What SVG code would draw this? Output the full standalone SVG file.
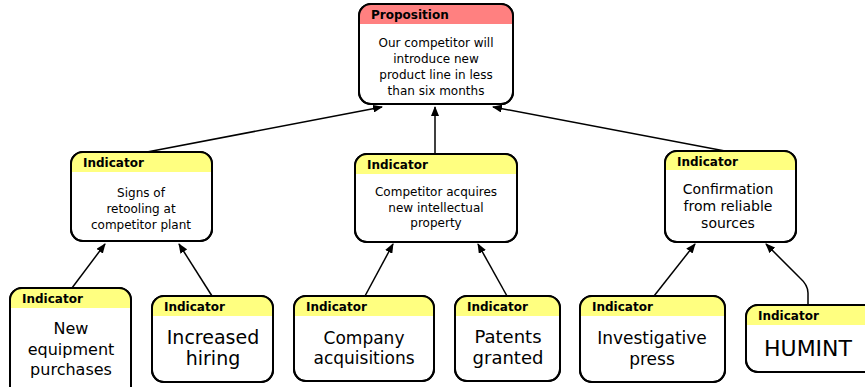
<svg xmlns="http://www.w3.org/2000/svg" width="865" height="387" viewBox="0 0 865 387">
<defs>
<style>
.box{fill:#fff;stroke:#000;stroke-width:2}
.hp{fill:#ff8080}
.hy{fill:#ffff80}
.h{font-family:"DejaVu Sans",Verdana,sans-serif;font-weight:bold;font-size:12px;fill:#000}
.t{font-family:"DejaVu Sans",Verdana,sans-serif;fill:#000;text-anchor:middle}
.c{fill:none;stroke:#000;stroke-width:1.5;marker-end:url(#ar)}
</style>
<marker id="ar" markerWidth="10" markerHeight="8" refX="9" refY="4" orient="auto" markerUnits="userSpaceOnUse">
<path d="M0,0 L10,4 L0,8 Z" fill="#000"/>
</marker>
<clipPath id="cp"><rect x="359" y="4" width="154" height="100" rx="12"/></clipPath>
<clipPath id="c1"><rect x="71" y="152" width="141" height="89" rx="12"/></clipPath>
<clipPath id="c2"><rect x="355" y="154" width="162" height="88" rx="12"/></clipPath>
<clipPath id="c3"><rect x="665" y="151" width="131" height="91" rx="12"/></clipPath>
<clipPath id="cA"><rect x="10" y="288" width="121" height="110" rx="12"/></clipPath>
<clipPath id="cB"><rect x="152" y="296" width="121" height="86" rx="12"/></clipPath>
<clipPath id="cC"><rect x="294" y="296" width="140" height="85" rx="12"/></clipPath>
<clipPath id="cD"><rect x="455" y="296" width="105" height="85" rx="12"/></clipPath>
<clipPath id="cE"><rect x="580" y="296" width="145" height="86" rx="12"/></clipPath>
<clipPath id="cF"><rect x="746" y="305" width="130" height="67" rx="12"/></clipPath>
</defs>
<g id="connectors">
<line class="c" x1="147" y1="152" x2="382" y2="107"/>
<line class="c" x1="435" y1="154" x2="435" y2="107"/>
<line class="c" x1="725" y1="151" x2="493" y2="107"/>
<line class="c" x1="72" y1="288" x2="105" y2="244"/>
<line class="c" x1="212" y1="296" x2="179" y2="244"/>
<line class="c" x1="365" y1="296" x2="393" y2="244"/>
<line class="c" x1="507" y1="296" x2="478" y2="244"/>
<line class="c" x1="654" y1="296" x2="695" y2="244"/>
<path class="c" d="M808,305 L808,293 Q808,285 800,278 L766,244"/>
</g>
<g id="proposition">
<rect class="box" x="359" y="4" width="154" height="100" rx="12"/>
<rect class="hp" x="359" y="4" width="154" height="20" clip-path="url(#cp)"/>
<rect x="359" y="4" width="154" height="100" rx="12" fill="none" stroke="#000" stroke-width="2"/>
<text class="h" x="371" y="19">Proposition</text>
<text class="t" font-size="12" x="436" y="47">Our competitor will</text>
<text class="t" font-size="12" x="436" y="63">introduce new</text>
<text class="t" font-size="12" x="436" y="79">product line in less</text>
<text class="t" font-size="12" x="436" y="95">than six months</text>
</g>
<g id="ind1">
<rect class="box" x="71" y="152" width="141" height="89" rx="12"/>
<rect class="hy" x="71" y="152" width="141" height="20" clip-path="url(#c1)"/>
<rect x="71" y="152" width="141" height="89" rx="12" fill="none" stroke="#000" stroke-width="2"/>
<text class="h" x="83" y="167">Indicator</text>
<text class="t" font-size="12" x="141" y="197">Signs of</text>
<text class="t" font-size="12" x="141" y="213">retooling at</text>
<text class="t" font-size="12" x="141" y="229">competitor plant</text>
</g>
<g id="ind2">
<rect class="box" x="355" y="154" width="162" height="88" rx="12"/>
<rect class="hy" x="355" y="154" width="162" height="20" clip-path="url(#c2)"/>
<rect x="355" y="154" width="162" height="88" rx="12" fill="none" stroke="#000" stroke-width="2"/>
<text class="h" x="367" y="169">Indicator</text>
<text class="t" font-size="12" x="436" y="196">Competitor acquires</text>
<text class="t" font-size="12" x="436" y="212">new intellectual</text>
<text class="t" font-size="12" x="436" y="227">property</text>
</g>
<g id="ind3">
<rect class="box" x="665" y="151" width="131" height="91" rx="12"/>
<rect class="hy" x="665" y="151" width="131" height="19" clip-path="url(#c3)"/>
<rect x="665" y="151" width="131" height="91" rx="12" fill="none" stroke="#000" stroke-width="2"/>
<text class="h" x="677" y="166">Indicator</text>
<text class="t" font-size="14" x="728" y="194">Confirmation</text>
<text class="t" font-size="14" x="728" y="211">from reliable</text>
<text class="t" font-size="14" x="728" y="228">sources</text>
</g>
<g id="indA">
<rect class="box" x="10" y="288" width="121" height="110" rx="12"/>
<rect class="hy" x="10" y="288" width="121" height="20" clip-path="url(#cA)"/>
<rect x="10" y="288" width="121" height="110" rx="12" fill="none" stroke="#000" stroke-width="2"/>
<text class="h" x="22" y="303">Indicator</text>
<text class="t" font-size="16" x="71" y="334">New</text>
<text class="t" font-size="16" x="71" y="355">equipment</text>
<text class="t" font-size="16" x="71" y="375">purchases</text>
</g>
<g id="indB">
<rect class="box" x="152" y="296" width="121" height="86" rx="12"/>
<rect class="hy" x="152" y="296" width="121" height="20" clip-path="url(#cB)"/>
<rect x="152" y="296" width="121" height="86" rx="12" fill="none" stroke="#000" stroke-width="2"/>
<text class="h" x="164" y="311">Indicator</text>
<text class="t" font-size="19" x="213" y="344">Increased</text>
<text class="t" font-size="19" x="213" y="365">hiring</text>
</g>
<g id="indC">
<rect class="box" x="294" y="296" width="140" height="85" rx="12"/>
<rect class="hy" x="294" y="296" width="140" height="20" clip-path="url(#cC)"/>
<rect x="294" y="296" width="140" height="85" rx="12" fill="none" stroke="#000" stroke-width="2"/>
<text class="h" x="306" y="311">Indicator</text>
<text class="t" font-size="17" x="364" y="344">Company</text>
<text class="t" font-size="17" x="364" y="364">acquisitions</text>
</g>
<g id="indD">
<rect class="box" x="455" y="296" width="105" height="85" rx="12"/>
<rect class="hy" x="455" y="296" width="105" height="20" clip-path="url(#cD)"/>
<rect x="455" y="296" width="105" height="85" rx="12" fill="none" stroke="#000" stroke-width="2"/>
<text class="h" x="467" y="311">Indicator</text>
<text class="t" font-size="18" x="508" y="343">Patents</text>
<text class="t" font-size="18" x="508" y="364">granted</text>
</g>
<g id="indE">
<rect class="box" x="580" y="296" width="145" height="86" rx="12"/>
<rect class="hy" x="580" y="296" width="145" height="20" clip-path="url(#cE)"/>
<rect x="580" y="296" width="145" height="86" rx="12" fill="none" stroke="#000" stroke-width="2"/>
<text class="h" x="592" y="311">Indicator</text>
<text class="t" font-size="17" x="652" y="344">Investigative</text>
<text class="t" font-size="17" x="652" y="365">press</text>
</g>
<g id="indF">
<rect class="box" x="746" y="305" width="130" height="67" rx="12"/>
<rect class="hy" x="746" y="305" width="130" height="20" clip-path="url(#cF)"/>
<rect x="746" y="305" width="130" height="67" rx="12" fill="none" stroke="#000" stroke-width="2"/>
<text class="h" x="758" y="320">Indicator</text>
<text class="t" font-size="22" x="808" y="356">HUMINT</text>
</g>
</svg>
